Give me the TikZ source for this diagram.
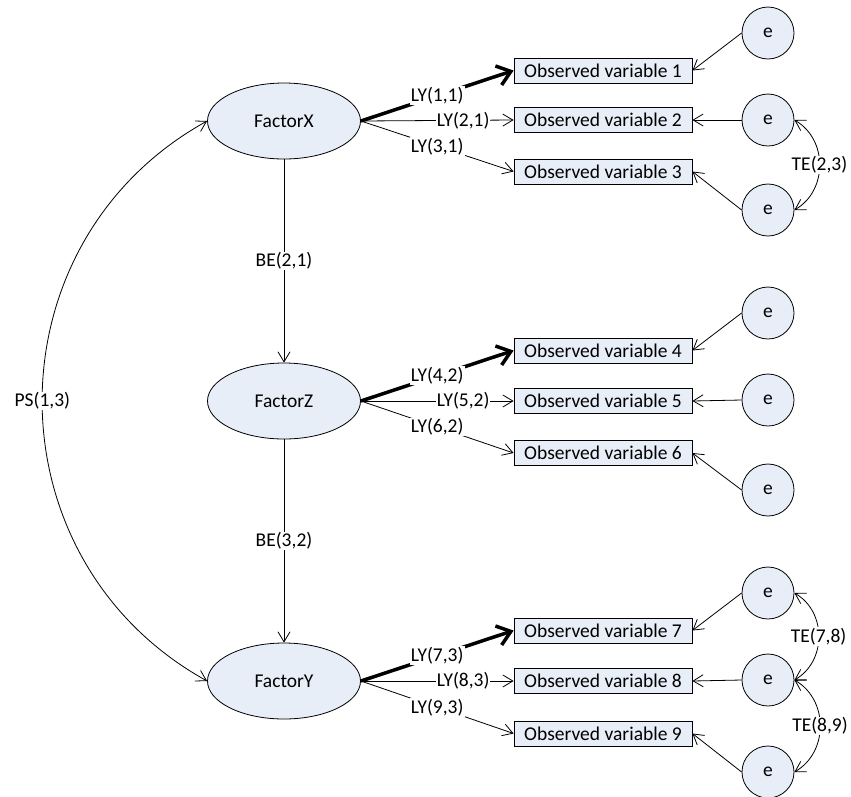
\documentclass[tikz,border=0pt]{standalone}
\usepackage{fontspec}
\setmainfont{Carlito}
\usetikzlibrary{arrows.meta,shapes.geometric}
\definecolor{paleblue}{RGB}{232,238,247}
\begin{document}
\begin{tikzpicture}[x=1pt,y=1pt,
  font=\fontsize{19.5}{23}\selectfont,
  latent/.style={ellipse, draw, line width=0.8pt, fill=paleblue, minimum width=153pt, minimum height=76pt, inner sep=0pt},
  observed/.style={rectangle, draw, line width=0.8pt, fill=paleblue, minimum width=178pt, minimum height=25pt, inner sep=0pt},
  errterm/.style={circle, draw, line width=0.8pt, fill=paleblue, minimum size=52pt, inner sep=0pt},
  barb/.tip={Straight Barb[length=10pt,width=12pt]},
  link/.style={draw, line width=0.8pt, -barb},
  twoway/.style={draw, line width=0.8pt, barb-barb},
  fixedlink/.style={draw, line width=3.5pt, -{Straight Barb[length=13pt,width=20pt]}},
  lbl/.style={fill=white, inner sep=1pt}]

\useasboundingbox (0,0) rectangle (851,-796);

% latent factors
\node[latent] (FX) at (284,-121) {FactorX};
\node[latent] (FZ) at (284,-401) {FactorZ};
\node[latent] (FY) at (284,-681) {FactorY};

% observed variables
\node[observed] (b1) at (603,-70.5) {Observed variable 1};
\node[observed] (b2) at (603,-120) {Observed variable 2};
\node[observed] (b3) at (603,-171.5) {Observed variable 3};
\node[observed] (b4) at (603,-350.5) {Observed variable 4};
\node[observed] (b5) at (603,-401) {Observed variable 5};
\node[observed] (b6) at (603,-453) {Observed variable 6};
\node[observed] (b7) at (603,-630.5) {Observed variable 7};
\node[observed] (b8) at (603,-681) {Observed variable 8};
\node[observed] (b9) at (603,-733.5) {Observed variable 9};

% error terms
\node[errterm] (e1) at (768,-33) {e};
\node[errterm] (e2) at (768,-120) {e};
\node[errterm] (e3) at (768,-210) {e};
\node[errterm] (e4) at (768,-313) {e};
\node[errterm] (e5) at (768,-400) {e};
\node[errterm] (e6) at (768,-490) {e};
\node[errterm] (e7) at (768,-593) {e};
\node[errterm] (e8) at (768,-680) {e};
\node[errterm] (e9) at (768,-772) {e};

% loadings
\draw[fixedlink] (FX.east) -- node[lbl]{LY(1,1)} (b1.west);
\draw[link] (FX.east) -- node[lbl,pos=0.67]{LY(2,1)} (b2.west);
\draw[link] (FX.east) -- node[lbl]{LY(3,1)} (b3.west);
\draw[fixedlink] (FZ.east) -- node[lbl]{LY(4,2)} (b4.west);
\draw[link] (FZ.east) -- node[lbl,pos=0.67]{LY(5,2)} (b5.west);
\draw[link] (FZ.east) -- node[lbl]{LY(6,2)} (b6.west);
\draw[fixedlink] (FY.east) -- node[lbl]{LY(7,3)} (b7.west);
\draw[link] (FY.east) -- node[lbl,pos=0.67]{LY(8,3)} (b8.west);
\draw[link] (FY.east) -- node[lbl]{LY(9,3)} (b9.west);

% structural paths
\draw[link] (FX.south) -- node[lbl]{BE(2,1)} (FZ.north);
\draw[link] (FZ.south) -- node[lbl]{BE(3,2)} (FY.north);
\draw[twoway] (FX.west) to[bend right=61, looseness=1.15] node[lbl]{PS(1,3)} (FY.west);

% measurement errors
\foreach \i in {1,...,9} {
  \draw[link] (e\i.west) -- (b\i.east);
}
\draw[twoway] (e2.east) to[bend left=60, looseness=1.1] node[lbl]{TE(2,3)} (e3.east);
\draw[twoway] (e7.east) to[bend left=60, looseness=1.1] node[lbl]{TE(7,8)} (e8.east);
\draw[twoway] (e8.east) to[bend left=60, looseness=1.1] node[lbl]{TE(8,9)} (e9.east);
\end{tikzpicture}
\end{document}
